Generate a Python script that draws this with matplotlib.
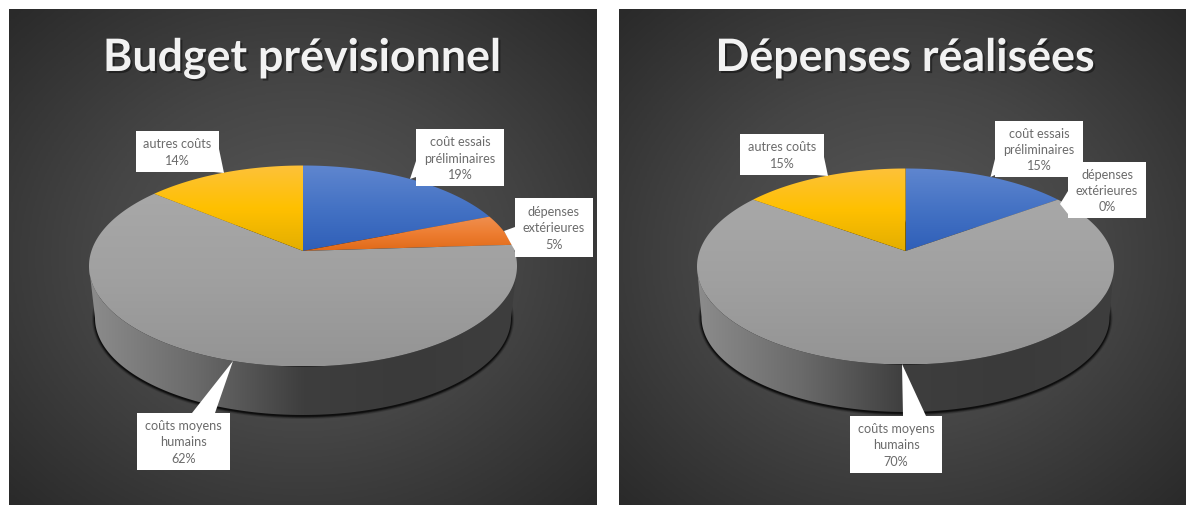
import numpy as np
import matplotlib
matplotlib.use("Agg")
import matplotlib.pyplot as plt
import matplotlib.patheffects as pe
from matplotlib.colors import LinearSegmentedColormap
from matplotlib.patches import Polygon, Rectangle

categories = ["coût essais\npréliminaires", "dépenses\nextérieures", "coûts moyens\nhumains", "autres coûts"]
budget_values = [19, 5, 62, 14]
spent_values = [15, 0, 70, 15]
titles = ["Budget prévisionnel", "Dépenses réalisées"]

# top, middle, bottom colours of each slice
slice_colors = [
    ["#5f86cf", "#4472c4", "#2f5fb8"],
    ["#ef8f50", "#ed7d31", "#e06a18"],
    ["#a8a8a8", "#a0a0a0", "#949494"],
    ["#fdc23a", "#ffc000", "#e3ae00"],
]

FONT = "Lato"
W, H = 1186, 506


def rim_point(theta, geo):
    # theta is clockwise from the top, k moves the apex up from the ellipse centre
    k = geo["k"]
    x = np.sin(theta)
    y = np.cos(theta)
    e = (y + k) / (1 + k * y)
    xs = x * np.sqrt(1 - k ** 2) / (1 + k * y)
    return geo["cx"] + geo["rx"] * xs, geo["cy"] - geo["ry"] * e


def gradient_fill(ax, poly_xy, stops, horizontal=False, zorder=2):
    poly = Polygon(poly_xy, closed=True, fc="none", ec="none", transform=ax.transData)
    ax.add_patch(poly)
    x0, y0 = poly_xy.min(axis=0)
    x1, y1 = poly_xy.max(axis=0)
    cmap = LinearSegmentedColormap.from_list("g", stops)
    grad = np.linspace(0, 1, 256).reshape(-1, 1)
    if horizontal:
        grad = grad.T
    im = ax.imshow(grad, cmap=cmap, extent=(x0, x1, y1, y0), aspect="auto", zorder=zorder,
                   interpolation="bilinear")
    im.set_clip_path(poly)


def draw_panel(ax, box):
    x0, x1, y0, y1 = box
    xs = np.linspace(-1, 1, 300)
    ys = np.linspace(-1, 1, 260)
    xx, yy = np.meshgrid(xs, ys)
    r = np.clip(np.sqrt(xx ** 2 + yy ** 2) / 1.41, 0, 1)
    cmap = LinearSegmentedColormap.from_list("bg", ["#5a5a5a", "#454545", "#2a2a2a"])
    ax.imshow(r, cmap=cmap, extent=(x0, x1, y1, y0), aspect="auto", zorder=1, vmin=0, vmax=1)


def draw_pie(ax, values, geo):
    t = np.linspace(0, 2 * np.pi, 361)
    # shadow under the disc
    for grow, alpha in [(3.0, 0.2), (2.0, 0.35), (1.2, 0.55), (0.6, 0.85)]:
        sx = geo["cx"] + (geo["brx"] + grow) * np.sin(t)
        sy = geo["bcy"] + 1 - (geo["bry"] + grow) * np.cos(t)
        ax.add_patch(Polygon(np.c_[sx, sy], closed=True, fc="#0c0c0c", ec="none", alpha=alpha, zorder=2))

    # side wall
    front = np.linspace(np.pi / 2, 3 * np.pi / 2, 200)
    top_x = geo["cx"] + geo["rx"] * np.sin(front)
    top_y = geo["cy"] - geo["ry"] * np.cos(front)
    bot_x = geo["cx"] + geo["brx"] * np.sin(front[::-1])
    bot_y = geo["bcy"] - geo["bry"] * np.cos(front[::-1])
    wall = np.c_[np.r_[top_x, bot_x], np.r_[top_y, bot_y]]
    gradient_fill(ax, wall, ["#8c8c8c", "#6a6a6a", "#3e3e3e", "#3a3a3a", "#3e3e3e"], horizontal=True, zorder=3)

    # top face
    start = 0
    apex_xy = (geo["cx"], geo["cy"] - geo["ry"] * geo["k"])
    for val, stops in zip(values, slice_colors):
        if val == 0:
            continue
        a0 = start / 100 * 2 * np.pi
        a1 = (start + val) / 100 * 2 * np.pi
        th = np.linspace(a0, a1, max(int(val * 6), 10))
        rx, ry = rim_point(th, geo)
        poly = np.c_[np.r_[apex_xy[0], rx], np.r_[apex_xy[1], ry]]
        gradient_fill(ax, poly, stops, zorder=4)
        start += val


def draw_label(ax, text, box, pointer):
    x0, x1, y0, y1 = box
    ax.add_patch(Polygon(pointer, closed=True, fc="white", ec="none", zorder=6))
    ax.add_patch(Rectangle((x0, y0), x1 - x0, y1 - y0, fc="white", ec="none", zorder=6))
    ax.text((x0 + x1) / 2, (y0 + y1) / 2, text, ha="center", va="center", color="#6b6b6b",
            fontsize=9.1, family=FONT, linespacing=1.42, zorder=7)


fig = plt.figure(figsize=(W / 100, H / 100), dpi=100, facecolor="white")
ax = fig.add_axes([0, 0, 1, 1])
ax.set_axis_off()

panels = [(9, 597, 10, 506), (619, 1186, 10, 506)]
geos = [
    dict(cx=303, cy=267, rx=214, ry=100.5, k=0.15, brx=208, bry=97, bcy=319),
    dict(cx=905.5, cy=267.5, rx=208.5, ry=98, k=0.158, brx=204, bry=95, bcy=318),
]
label_boxes = [
    [(416, 504, 130, 187), (515, 593, 199, 258), (137, 230, 414, 471), (136, 219, 132, 173)],
    [(995, 1083, 122, 178), (1068, 1146, 163, 219), (850, 942, 417, 474), (740, 824, 135, 176)],
]
pointers = [
    [[(410, 180), (416, 162), (416, 178)], [(504, 232), (515, 228), (515, 252)],
     [(233, 362), (192, 414), (215, 414)], [(224, 174), (219, 150), (214, 173)]],
    [[(990.5, 178), (995, 160), (995, 176)], [(1060, 205), (1068, 192), (1068, 215)],
     [(902, 365), (903, 417), (926, 417)], [(828, 177), (824, 158), (816, 176)]],
]
title_x = [302, 905]
all_values = [budget_values, spent_values]

for i in range(2):
    draw_panel(ax, panels[i])
    draw_pie(ax, all_values[i], geos[i])
    for j, name in enumerate(categories):
        draw_label(ax, f"{name}\n{all_values[i][j]}%", label_boxes[i][j], pointers[i][j])
    ax.text(title_x[i], 72, titles[i], ha="center", va="baseline", color="#f2f2f2", fontsize=32.2,
            family=FONT, fontweight="bold", zorder=8,
            path_effects=[pe.withSimplePatchShadow(offset=(1.5, -1.5), shadow_rgbFace="#000000", alpha=0.4)])

ax.set_xlim(0, W)
ax.set_ylim(H, 0)
fig.savefig("out.png", dpi=100, facecolor="white")
